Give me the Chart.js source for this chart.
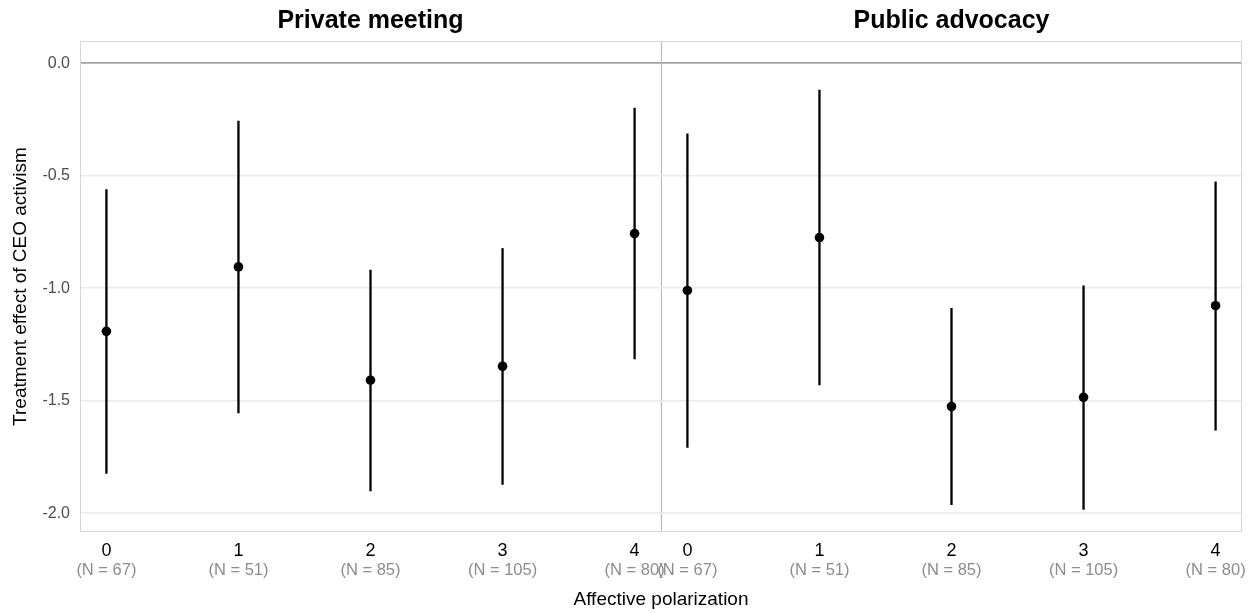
<!DOCTYPE html>
<html>
<head>
<meta charset="utf-8">
<script src="https://cdn.jsdelivr.net/npm/chart.js@4"></script>
<style>
  html, body { margin: 0; padding: 0; background: #fff; }
  #wrap { width: 1257px; height: 613px; }
</style>
</head>
<body>
<div id="wrap"><canvas id="myChart" width="1257" height="613"></canvas></div>
<script>
// data
const levels = [0, 1, 2, 3, 4];
const nLabels = ['(N = 67)', '(N = 51)', '(N = 85)', '(N = 105)', '(N = 80)'];
const panels = ['Private meeting', 'Public advocacy'];
const yTicks = [-2, -1.5, -1, -0.5, 0];

const privateEst = [-1.192, -0.905, -1.409, -1.347, -0.757];
const privateLo  = [-1.825, -1.556, -1.903, -1.874, -1.316];
const privateHi  = [-0.560, -0.256, -0.918, -0.822, -0.198];

const publicEst = [-1.010, -0.775, -1.526, -1.485, -1.078];
const publicLo  = [-1.709, -1.431, -1.964, -1.985, -1.633];
const publicHi  = [-0.312, -0.118, -1.088, -0.988, -0.526];

// facet layout: each panel spans -0.2..4.2, second panel shifted along one x scale
const pad = 0.2;
const shift = 4 + 2 * pad;
const xMin = -pad, xMax = shift + 4 + pad;
const boundary = 4 + pad;

const font = 'Liberation Sans, Arial, Helvetica, sans-serif';

const panelEst = [privateEst, publicEst];
const panelLo = [privateLo, publicLo];
const panelHi = [privateHi, publicHi];

const datasets = [];
panelEst.forEach((est, p) => {
  levels.forEach((lv, i) => {
    datasets.push({
      type: 'line',
      data: [{x: lv + p * shift, y: panelLo[p][i]}, {x: lv + p * shift, y: panelHi[p][i]}],
      borderColor: '#000',
      borderWidth: 2.3,
      pointRadius: 0,
      fill: false
    });
  });
  datasets.push({
    type: 'scatter',
    data: levels.map((lv, i) => ({x: lv + p * shift, y: est[i]})),
    backgroundColor: '#000',
    borderColor: '#000',
    pointRadius: 4.8,
    borderWidth: 0
  });
});

const tickPos = panels.flatMap((_, p) => levels.map(lv => lv + p * shift));

const panelBox = {
  id: 'panelBox',
  beforeDatasetsDraw(chart) {
    const {ctx, chartArea: a} = chart;
    ctx.save();
    ctx.strokeStyle = '#d6d6d6';
    ctx.lineWidth = 1;
    ctx.strokeRect(a.left + 0.5, a.top + 0.5, a.right - a.left - 1, a.bottom - a.top - 1);
    ctx.restore();
  }
};

const ctx = document.getElementById('myChart').getContext('2d');
new Chart(ctx, {
  data: { datasets },
  plugins: [panelBox],
  options: {
    responsive: false,
    animation: false,
    devicePixelRatio: 1,
    layout: { padding: { left: 0, right: 15, top: 0, bottom: 0 } },
    plugins: { legend: { display: false }, tooltip: { enabled: false } },
    scales: {
      x: {
        type: 'linear', position: 'bottom', min: xMin, max: xMax,
        afterBuildTicks: s => { s.ticks = tickPos.concat([boundary]).map(v => ({value: v})); },
        afterFit: s => { s.height = 28; },
        grid: {
          drawTicks: false,
          color: c => (c.tick && Math.abs(c.tick.value - boundary) < 1e-6) ? '#b5b5b5' : 'rgba(0,0,0,0)',
          lineWidth: 1
        },
        border: { display: false },
        ticks: {
          autoSkip: false, maxRotation: 0, padding: 8,
          color: '#000', font: { family: font, size: 18 },
          callback: v => {
            const i = tickPos.findIndex(t => Math.abs(t - v) < 1e-6);
            return i < 0 ? '' : String(levels[i % levels.length]);
          }
        }
      },
      xN: {
        type: 'linear', position: 'bottom', min: xMin, max: xMax,
        afterBuildTicks: s => { s.ticks = tickPos.map(v => ({value: v})); },
        afterFit: s => { s.height = 53; },
        grid: { display: false, drawTicks: false },
        border: { display: false },
        ticks: {
          autoSkip: false, maxRotation: 0, padding: 1,
          color: '#8c8c8c', font: { family: font, size: 16.5 },
          callback: v => {
            const i = tickPos.findIndex(t => Math.abs(t - v) < 1e-6);
            return i < 0 ? '' : nLabels[i % nLabels.length];
          }
        },
        title: {
          display: true, text: 'Affective polarization',
          color: '#000', font: { family: font, size: 19 },
          padding: { top: 0, bottom: 2 }
        }
      },
      strip: {
        type: 'linear', position: 'top', min: xMin, max: xMax,
        afterBuildTicks: s => { s.ticks = panels.map((_, p) => ({value: 2 + p * shift})); },
        afterFit: s => { s.height = 41; },
        grid: { display: false, drawTicks: false },
        border: { display: false },
        ticks: {
          autoSkip: false, maxRotation: 0, padding: 5,
          color: '#000', font: { family: font, size: 25, weight: 'bold' },
          callback: v => {
            const p = Math.round((v - 2) / shift);
            return panels[p] || '';
          }
        }
      },
      y: {
        type: 'linear', position: 'left', min: -2.084, max: 0.099,
        afterBuildTicks: s => { s.ticks = yTicks.map(v => ({value: v})); },
        afterFit: s => { s.width = 80; },
        grid: {
          drawTicks: false,
          color: c => (c.tick && c.tick.value === 0) ? '#a3a3a3' : '#ebebeb',
          lineWidth: c => (c.tick && c.tick.value === 0) ? 1.7 : 1.4
        },
        border: { display: false },
        ticks: {
          padding: 10, color: '#4d4d4d', font: { family: font, size: 16 },
          callback: v => v.toFixed(1)
        },
        title: {
          display: true, text: 'Treatment effect of CEO activism',
          color: '#000', font: { family: font, size: 19 },
          padding: { top: 9, bottom: 0 }
        }
      }
    }
  }
});
</script>
</body>
</html>
